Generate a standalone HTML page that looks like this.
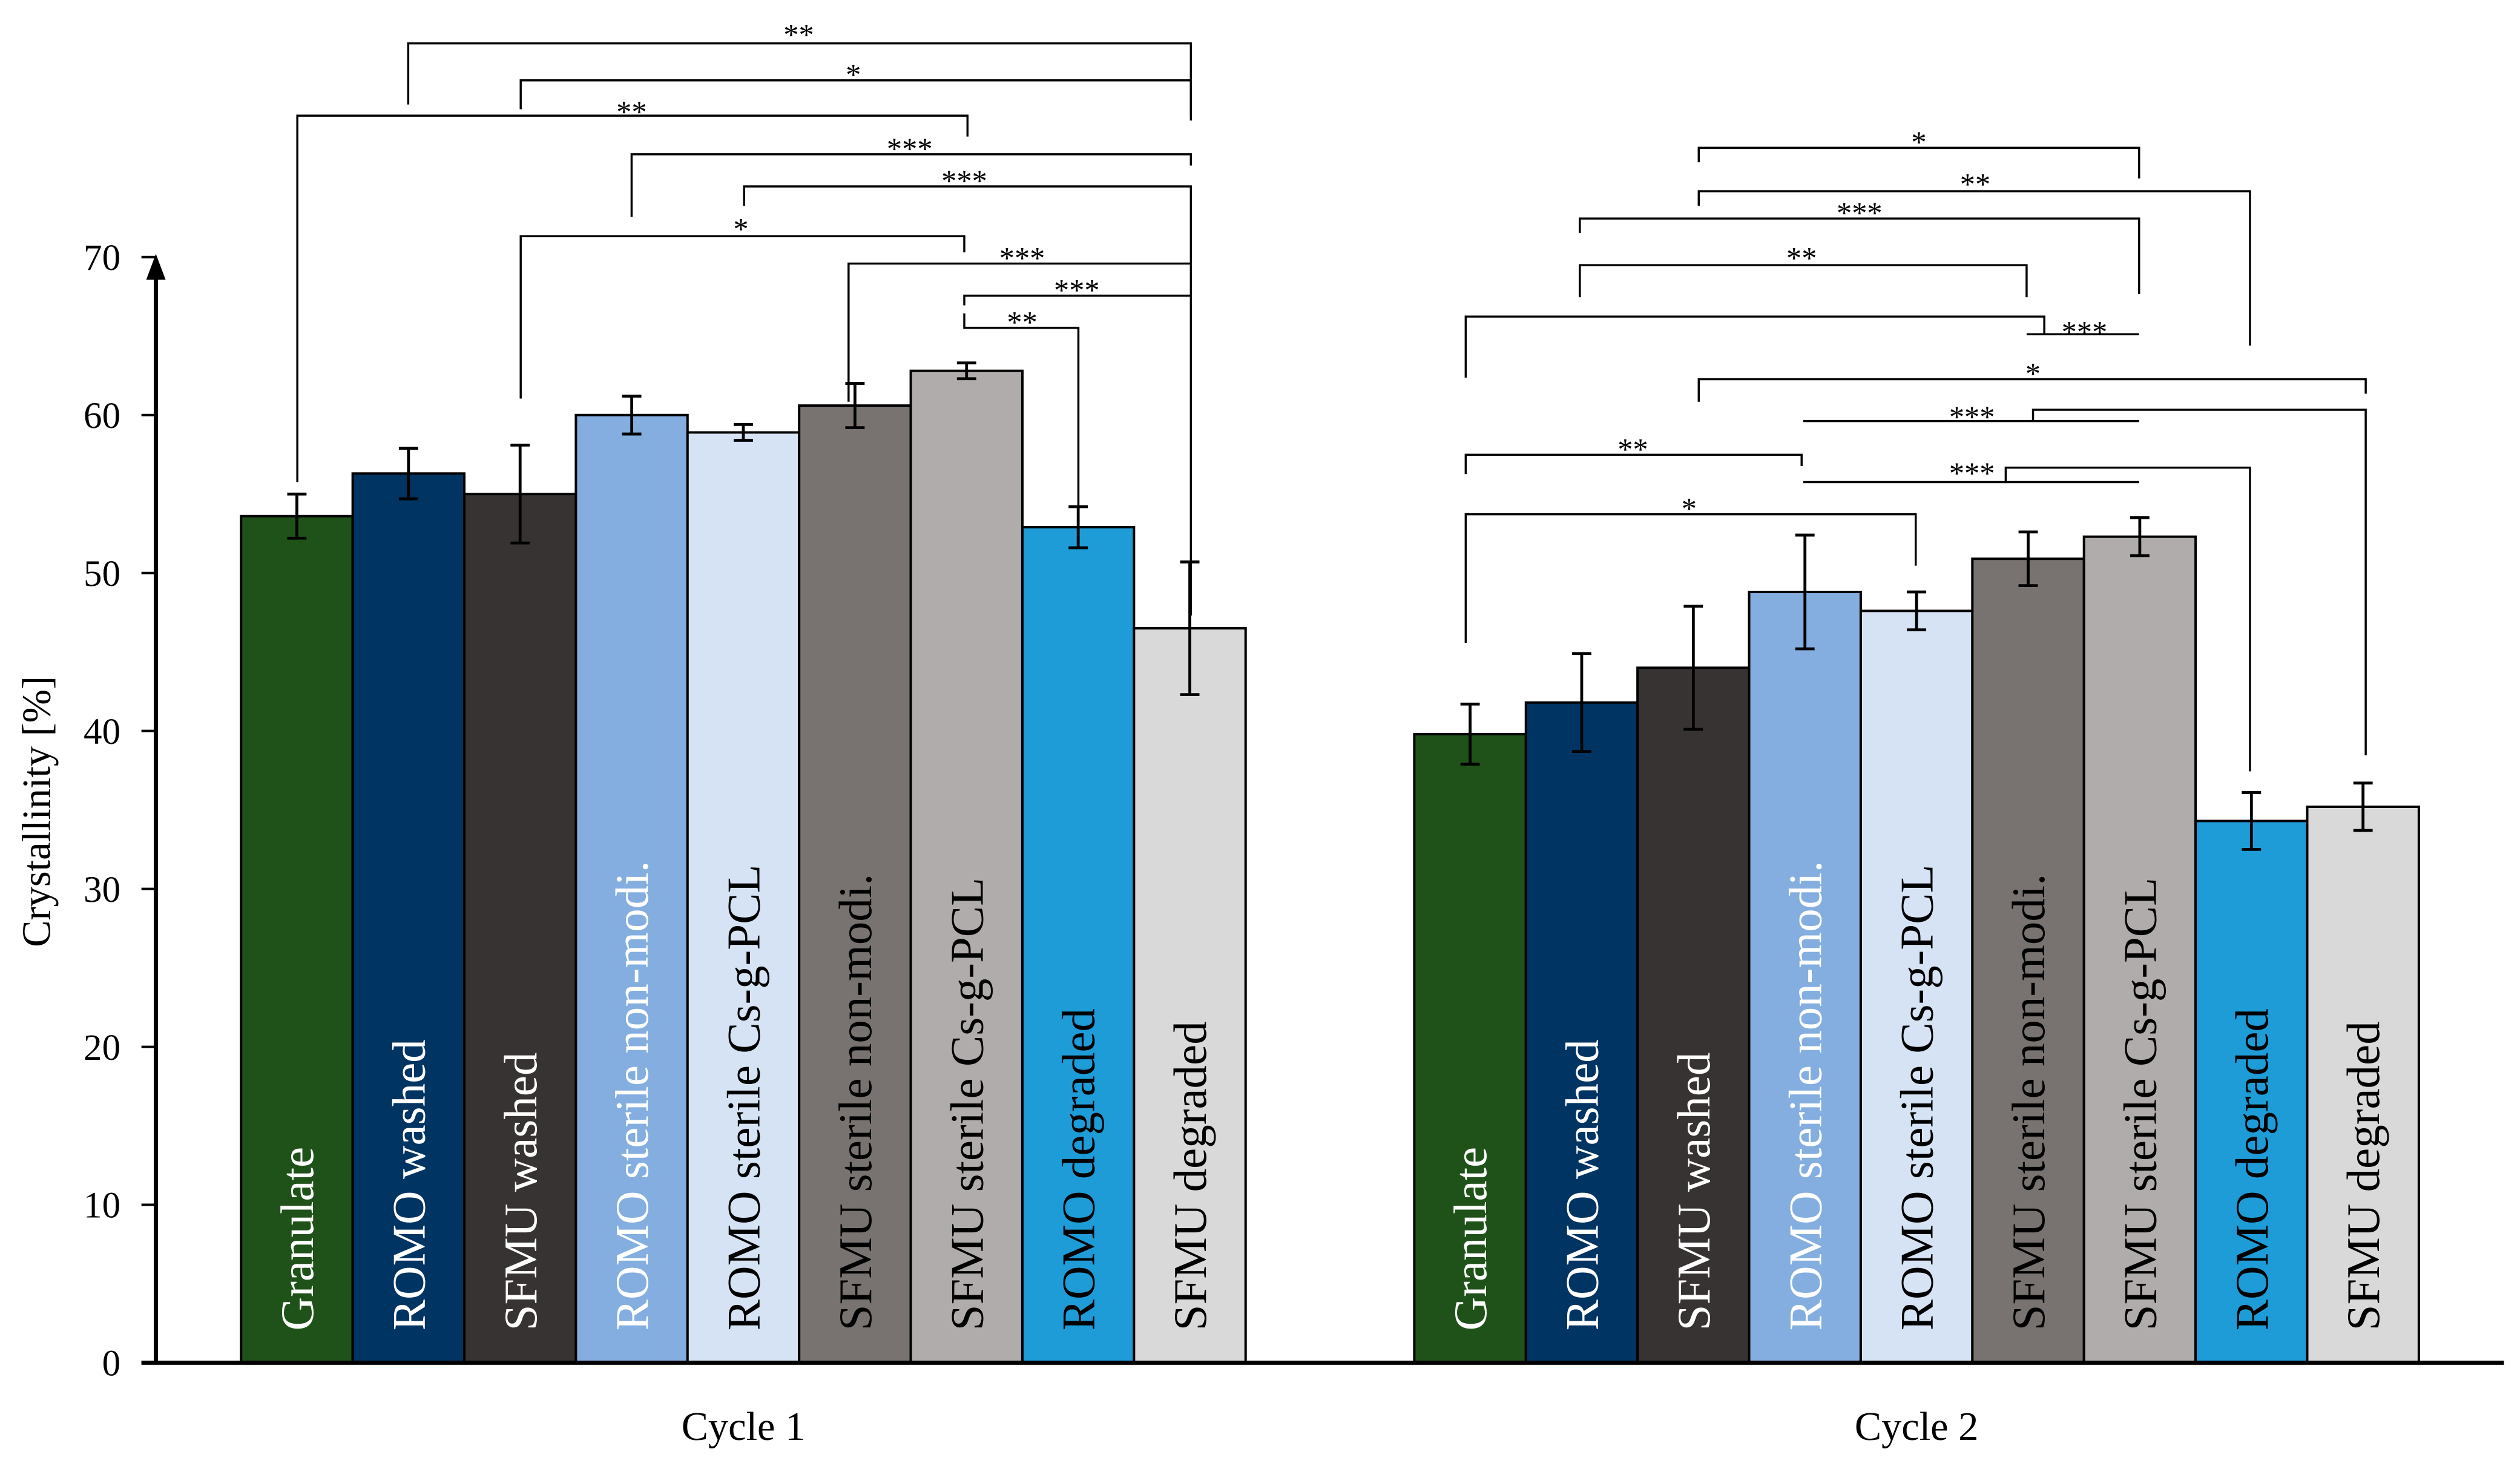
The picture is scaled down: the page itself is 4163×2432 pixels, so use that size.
<!DOCTYPE html>
<html><head><meta charset="utf-8"><style>
html,body{margin:0;padding:0;background:#fff}
svg{display:block}
text{font-family:"Liberation Serif",serif}
</style></head><body>
<svg id="chart" width="4163" height="2432" viewBox="0 0 1568 916" preserveAspectRatio="none" xmlns="http://www.w3.org/2000/svg">
<g id="brackets" fill="none" stroke="#000" stroke-width="1.3"></g>
<g id="bars"></g>
<g id="axes"></g>
</svg>
<script>
const categories = ["Granulate","ROMO washed","SFMU washed","ROMO sterile non-modi.","ROMO sterile Cs-g-PCL","SFMU sterile non-modi.","SFMU sterile Cs-g-PCL","ROMO degraded","SFMU degraded"];
const groups = ["Cycle 1","Cycle 2"];
const cycle1Values = [53.6,56.3,55.0,60.0,58.9,60.6,62.8,52.9,46.5];
const cycle1Errors = [1.4,1.6,3.1,1.2,0.5,1.4,0.5,1.3,4.2];
const cycle2Values = [39.8,41.8,44.0,48.8,47.6,50.9,52.3,34.3,35.2];
const cycle2Errors = [1.9,3.1,3.9,3.6,1.2,1.7,1.2,1.8,1.5];
const yTicks = [0,10,20,30,40,50,60,70];
const colors = ["#1f5219","#003462","#383333","#83aedf","#d5e3f4","#787270","#b0acab","#1e9cd8","#d9d9d9"];
const textColors = ["#fff","#fff","#fff","#fff","#000","#000","#000","#000","#000"];

const NS="http://www.w3.org/2000/svg";
const y = v => 848 - v*(688/70);
const groupStart=[150,880], barW=69.45;
const xb = (g,i) => groupStart[g] + i*barW;
function mk(tag, attrs, parent){const e=document.createElementNS(NS,tag);for(const k in attrs)e.setAttribute(k,attrs[k]);parent.appendChild(e);return e;}

const barsG=document.getElementById('bars');
[cycle1Values,cycle2Values].forEach((vals,g)=>{
  const errs = g===0?cycle1Errors:cycle2Errors;
  vals.forEach((v,i)=>{
    const r=mk('rect',{x:xb(g,i),y:y(v),width:barW,height:y(0)-y(v),fill:colors[i],stroke:'#000','stroke-width':1.5},barsG);
    
    
    const cx=xb(g,i)+barW/2, e=errs[i];
    const eb=mk('path',{d:`M${cx},${y(v+e)}V${y(v-e)}M${cx-6},${y(v+e)}H${cx+6}M${cx-6},${y(v-e)}H${cx+6}`,stroke:'#000','stroke-width':1.8,fill:'none'},barsG);
    
    
    const t=mk('text',{x:0,y:0,transform:`translate(${cx+10},828) rotate(-90)`,'font-size':29,fill:textColors[i]},barsG);
    t.textContent=categories[i];
    
    
  });
});

const ax=document.getElementById('axes');
mk('path',{d:'M97,848V170M88,848H1558',stroke:'#000','stroke-width':2.6,fill:'none'},ax);
mk('path',{d:'M97,158L91,174H103Z',fill:'#000'},ax);
yTicks.forEach(t=>{
  mk('path',{d:`M88,${y(t)}H97`,stroke:'#000','stroke-width':1.5},ax);
  const tx=mk('text',{x:75,y:y(t)+8,'text-anchor':'end','font-size':23},ax);
  tx.textContent=t;
  
  
});
const yt=mk('text',{transform:'translate(31,505) rotate(-90)','text-anchor':'middle','font-size':25},ax);
yt.textContent='Crystallinity [%]';


groups.forEach((gname,g)=>{
  const tx=mk('text',{x:groupStart[g]+4.5*barW,y:896,'text-anchor':'middle','font-size':25},ax);
  tx.textContent=gname;
  
  
});

const br=document.getElementById('brackets');
const paths=[
 ['M254,65V27H741V72','**',497,20],
 ['M324,68V50H741V75','*',531,45],
 ['M185,300V72H602V85','**',393,68],
 ['M393,135V96H741V103','***',566,91],
 ['M463,128V116H741V383','***',600,111],
 ['M324,248V147H600V157','*',461,141],
 ['M528,250V164H741','***',636,159],
 ['M600,190V184H741','***',670,179],
 ['M600,195V204H671V315','**',636,199],
 ['M1057,101V92H1331V111','*',1194,87],
 ['M1057,128V119H1400V215','**',1229,113],
 ['M983,145V136H1331V183','***',1157,131],
 ['M983,185V165H1261V185','**',1121,159],
 ['M912,235V197H1272V208M1261,208H1331','***',1297,205],
 ['M1057,250V236H1472V245','*',1265,231],
 ['M1122,262H1331M1265,262V255H1472V470','***',1227,258],
 ['M912,295V283H1121V290','**',1016,278],
 ['M1122,300H1331M1248,300V291H1400V480','***',1227,293],
 ['M912,400V320H1192V352','*',1051,315]
];
paths.forEach(p=>{
  const e=mk('path',{d:p[0]},br);
  
  
  const t=mk('text',{x:p[2],y:p[3]+8,'text-anchor':'middle','font-size':19,fill:'#000',stroke:'none'},br);
  t.textContent=p[1];
  
  
});
</script>
</body></html>
